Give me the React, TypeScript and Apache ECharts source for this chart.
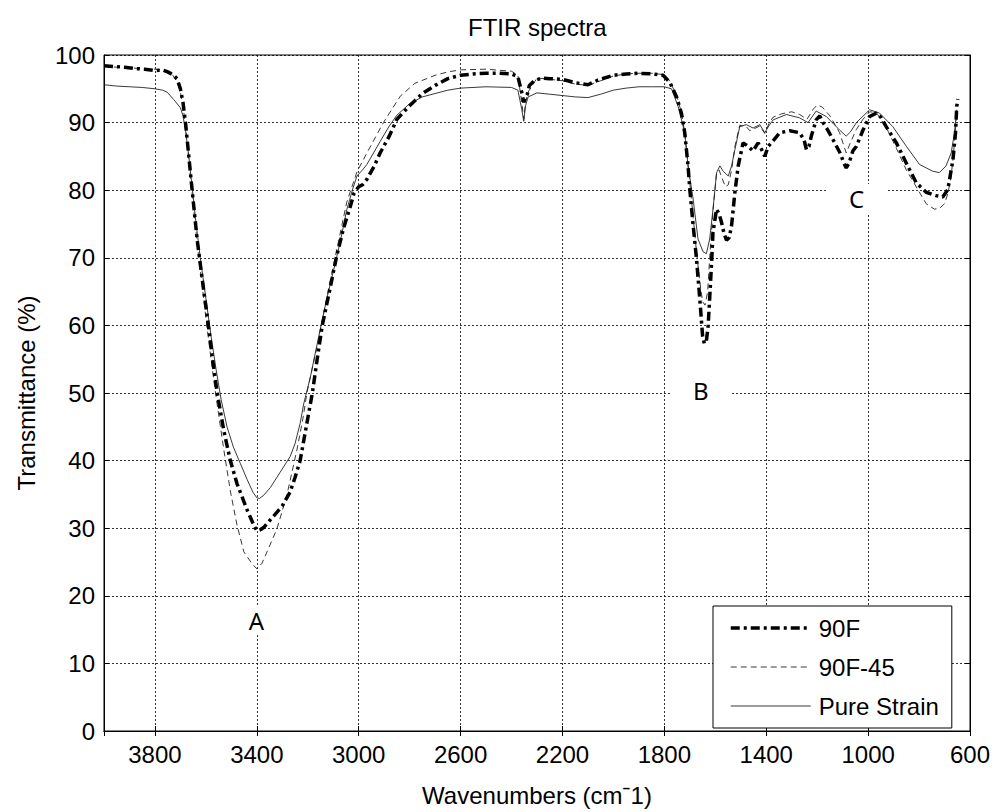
import React, { useEffect, useRef } from "react";
import * as echarts from "echarts";

const FONT = "'Liberation Sans', Arial, Helvetica, sans-serif";

const seriesNames = ["90F", "90F-45", "Pure Strain"];

// 90F (thick dash-dot)
const wn90F = [4000, 3960, 3920, 3880, 3840, 3800, 3770, 3750, 3730, 3713, 3700, 3690, 3680, 3667, 3654, 3634, 3615, 3595, 3576, 3556, 3530, 3504, 3478, 3438, 3410, 3399, 3385, 3373, 3334, 3300, 3270, 3250, 3230, 3206, 3182, 3163, 3143, 3115, 3088, 3060, 3033, 3018, 3000, 2985, 2968, 2940, 2916, 2880, 2850, 2800, 2750, 2700, 2650, 2600, 2550, 2500, 2450, 2400, 2375, 2360, 2352, 2345, 2338, 2330, 2310, 2280, 2250, 2200, 2150, 2100, 2060, 2000, 1950, 1900, 1850, 1805, 1779, 1752, 1733, 1720, 1707, 1700, 1687, 1674, 1661, 1650, 1643, 1635, 1628, 1622, 1615, 1609, 1595, 1585, 1576, 1565, 1556, 1545, 1536, 1523, 1510, 1491, 1471, 1452, 1432, 1418, 1406, 1392, 1380, 1347, 1308, 1269, 1252, 1242, 1232, 1223, 1204, 1190, 1177, 1160, 1138, 1110, 1095, 1086, 1075, 1060, 1046, 1020, 994, 968, 950, 929, 889, 850, 811, 772, 733, 707, 687, 667, 657, 652, 648];
const t90F = [98.4, 98.3, 98.2, 98.0, 97.9, 97.7, 97.8, 97.5, 97.1, 96.5, 95.0, 93.0, 90.0, 85.0, 80.0, 72.6, 67.0, 61.4, 55.7, 50.1, 44.5, 40.0, 36.6, 32.7, 30.3, 29.6, 29.8, 30.1, 31.8, 33.3, 35.3, 37.5, 40.0, 45.0, 50.0, 55.0, 60.0, 65.0, 70.0, 74.3, 77.6, 79.6, 80.5, 80.8, 81.6, 83.5, 85.5, 88.0, 90.5, 92.5, 94.3, 95.5, 96.5, 97.0, 97.2, 97.3, 97.3, 97.2, 96.8, 94.5, 93.0, 93.8, 94.2, 95.5, 96.2, 96.6, 96.5, 96.4, 95.9, 95.6, 96.3, 97.0, 97.2, 97.3, 97.2, 97.0, 96.0, 93.8, 91.4, 88.5, 83.6, 80.1, 74.8, 69.9, 64.0, 58.5, 57.3, 57.7, 60.0, 64.0, 69.0, 73.8, 77.2, 76.5, 75.3, 73.5, 72.6, 73.0, 74.8, 79.7, 83.6, 87.0, 86.5, 85.8, 87.0, 86.0, 85.0, 86.5, 87.0, 88.5, 88.8, 88.5, 87.5, 86.0, 86.5, 88.0, 90.4, 91.0, 90.0, 89.0, 87.5, 85.5, 84.0, 83.3, 84.0, 85.8, 86.5, 88.9, 90.9, 91.4, 90.8, 89.4, 87.0, 84.0, 81.1, 79.7, 79.2, 79.0, 80.1, 84.5, 88.4, 92.4, 93.5];

// 90F-45 (thin dashed)
const wn90F45 = [4000, 3950, 3900, 3850, 3800, 3770, 3750, 3730, 3713, 3700, 3690, 3680, 3667, 3654, 3634, 3615, 3598, 3582, 3566, 3556, 3530, 3504, 3478, 3451, 3420, 3400, 3380, 3360, 3321, 3282, 3242, 3220, 3203, 3164, 3125, 3085, 3047, 3007, 2968, 2903, 2837, 2780, 2700, 2650, 2600, 2500, 2400, 2375, 2360, 2352, 2345, 2335, 2300, 2250, 2200, 2150, 2100, 2050, 2000, 1950, 1900, 1850, 1805, 1779, 1752, 1733, 1720, 1707, 1687, 1674, 1661, 1650, 1640, 1630, 1622, 1609, 1595, 1585, 1576, 1560, 1549, 1536, 1523, 1504, 1478, 1465, 1452, 1425, 1406, 1390, 1373, 1340, 1300, 1269, 1240, 1215, 1200, 1180, 1150, 1112, 1086, 1070, 1046, 1020, 994, 968, 929, 889, 850, 811, 772, 740, 720, 700, 687, 674, 661, 652];
const t90F45 = [98.3, 98.2, 98.1, 98.0, 97.9, 97.8, 97.5, 97.0, 96.0, 94.5, 92.5, 89.5, 84.5, 79.5, 72.0, 66.0, 60.5, 55.7, 51.0, 48.4, 41.7, 35.5, 30.5, 26.5, 24.8, 24.0, 24.8, 26.5, 29.9, 34.9, 41.7, 46.0, 50.1, 56.8, 64.2, 71.4, 78.2, 82.7, 85.5, 90.0, 93.9, 95.8, 97.0, 97.5, 97.8, 97.9, 97.6, 97.0, 93.0, 90.5, 93.0, 94.5, 96.6, 96.4, 96.2, 95.7, 95.5, 96.2, 96.9, 97.2, 97.3, 97.3, 97.1, 96.2, 94.0, 91.5, 88.5, 83.8, 76.0, 71.0, 66.5, 63.5, 63.0, 65.0, 70.0, 77.0, 82.5, 83.0, 82.0, 80.5, 80.8, 83.0, 86.5, 89.6, 89.4, 88.8, 89.0, 89.5, 88.4, 89.8, 90.8, 91.3, 91.6, 91.2, 90.5, 92.0, 92.6, 92.3, 91.0, 88.5, 85.5, 87.0, 89.0, 90.5, 91.6, 91.5, 89.3, 86.2, 83.0, 80.5, 78.0, 77.2, 77.3, 78.0, 79.5, 82.0, 87.0, 91.5];

// Pure Strain (thin solid)
const wnPure = [4000, 3950, 3900, 3850, 3800, 3770, 3752, 3726, 3700, 3690, 3680, 3667, 3654, 3640, 3622, 3600, 3580, 3560, 3540, 3517, 3492, 3465, 3438, 3415, 3400, 3390, 3375, 3347, 3308, 3269, 3250, 3230, 3216, 3190, 3170, 3150, 3125, 3099, 3070, 3047, 3025, 3007, 2985, 2968, 2916, 2880, 2850, 2800, 2750, 2700, 2650, 2600, 2500, 2400, 2375, 2360, 2352, 2345, 2335, 2300, 2250, 2200, 2150, 2100, 2050, 2000, 1950, 1900, 1850, 1800, 1772, 1746, 1730, 1720, 1707, 1687, 1668, 1648, 1635, 1622, 1609, 1595, 1582, 1569, 1549, 1536, 1523, 1504, 1478, 1452, 1425, 1406, 1390, 1373, 1321, 1269, 1236, 1204, 1164, 1112, 1086, 1070, 1046, 994, 955, 903, 850, 798, 746, 720, 694, 674, 661, 652];
const tPure = [95.6, 95.4, 95.3, 95.2, 95.0, 94.8, 94.5, 93.4, 92.2, 91.0, 88.9, 85.0, 80.5, 75.5, 70.0, 64.0, 58.5, 53.5, 49.0, 45.0, 42.0, 39.6, 37.2, 35.3, 34.5, 34.4, 34.8, 36.0, 38.3, 40.6, 42.5, 45.5, 48.4, 52.3, 56.0, 59.6, 64.0, 68.1, 72.8, 77.1, 80.0, 82.1, 83.0, 83.8, 87.2, 89.5, 91.1, 92.8, 93.8, 94.3, 94.8, 95.1, 95.3, 95.2, 94.8, 92.0, 90.2, 92.5, 93.8, 94.4, 94.2, 94.0, 93.8, 93.7, 94.2, 94.8, 95.1, 95.3, 95.3, 95.3, 95.0, 92.4, 90.0, 88.5, 83.6, 78.7, 72.8, 70.9, 70.6, 72.8, 77.2, 82.6, 83.6, 82.8, 82.1, 83.6, 86.0, 89.4, 89.7, 89.2, 89.7, 88.5, 89.5, 90.4, 91.2, 90.7, 90.0, 91.7, 90.9, 88.9, 88.0, 88.6, 90.0, 91.9, 91.4, 89.4, 86.5, 83.8, 82.8, 82.6, 83.6, 85.5, 88.5, 91.9];

// Peak annotations
const peakLabels = ["A", "B", "C"];
const peakWn = [3402, 1657, 1045];
const peakT = [16.4, 50.4, 78.7];

const xTicks = { min: 600, max: 4000, interval: 400 };
const yTicks = { min: 0, max: 100, interval: 10 };

const zip = (xs: number[], ys: number[]) => xs.map((x, i) => [x, ys[i]]);

export default function App() {
  const ref = useRef<HTMLDivElement>(null);
  useEffect(() => {
    if (!ref.current) return;
    const chart = echarts.init(ref.current, undefined, { renderer: "svg" });
    const tickLabel = { color: "#000", fontSize: 24, fontFamily: FONT, formatter: (v: number) => String(v) };
    const gridLine = { show: true, lineStyle: { color: "#000", width: 0.8, type: [2, 2] as any } };
    const style90F = { color: "#000", width: 3.5, type: [9, 4, 3, 4] };
    const style90F45 = { color: "#222", width: 0.9, type: [6, 4] };
    const stylePure = { color: "#222", width: 0.9, type: "solid" };
    const option: any = {
      animation: false,
      backgroundColor: "#fff",
      title: {
        text: "FTIR spectra",
        left: 463,
        top: 10,
        textStyle: { color: "#000", fontSize: 24, fontWeight: "normal", fontFamily: FONT },
      },
      grid: {
        left: 104,
        right: 25,
        top: 55,
        bottom: 75,
        show: true,
        borderColor: "#000",
        borderWidth: 1,
        backgroundColor: "#fff",
      },
      legend: {
        data: [
          { name: seriesNames[0], lineStyle: { width: 3.5 } },
          { name: seriesNames[1], lineStyle: { width: 0.9 } },
          { name: seriesNames[2], lineStyle: { width: 0.9 } },
        ],
        orient: "vertical",
        left: 713,
        top: 606,
        padding: [10, 13, 10, 16],
        itemGap: 15,
        itemWidth: 80,
        itemHeight: 14,
        itemStyle: { opacity: 0 },
        borderColor: "#000",
        borderWidth: 1,
        backgroundColor: "#fff",
        textStyle: { color: "#000", fontSize: 24, fontFamily: FONT, padding: [0, 0, 0, 3] },
      },
      xAxis: [
        {
          type: "value",
          inverse: true,
          ...xTicks,
          name: "Wavenumbers (cm\u02C91)",
          nameLocation: "middle",
          nameGap: 52,
          nameTextStyle: { color: "#000", fontSize: 24, fontFamily: FONT },
          axisLine: { show: true, lineStyle: { color: "#000", width: 1 } },
          axisTick: { show: true, inside: true, length: 5, lineStyle: { color: "#000" } },
          axisLabel: { ...tickLabel, margin: 11, showMaxLabel: false },
          splitLine: gridLine,
        },
        {
          type: "value",
          inverse: true,
          position: "top",
          ...xTicks,
          axisLine: { show: true, lineStyle: { color: "#000", width: 1 } },
          axisTick: { show: true, inside: true, length: 5, lineStyle: { color: "#000" } },
          axisLabel: { show: false },
          splitLine: { show: false },
        },
      ],
      yAxis: [
        {
          type: "value",
          ...yTicks,
          name: "Transmittance (%)",
          nameLocation: "middle",
          nameGap: 66,
          nameTextStyle: { color: "#000", fontSize: 24, fontFamily: FONT },
          axisLine: { show: true, lineStyle: { color: "#000", width: 1 } },
          axisTick: { show: true, inside: true, length: 5, lineStyle: { color: "#000" } },
          axisLabel: { ...tickLabel, margin: 9 },
          splitLine: gridLine,
        },
        {
          type: "value",
          position: "right",
          ...yTicks,
          axisLine: { show: true, lineStyle: { color: "#000", width: 1 } },
          axisTick: { show: true, inside: true, length: 5, lineStyle: { color: "#000" } },
          axisLabel: { show: false },
          splitLine: { show: false },
        },
      ],
      series: [
        {
          name: seriesNames[0],
          type: "line",
          data: zip(wn90F, t90F),
          symbol: "none",
          lineStyle: style90F,
          itemStyle: { color: "#000" },
          z: 4,
        },
        {
          name: seriesNames[1],
          type: "line",
          data: zip(wn90F45, t90F45),
          symbol: "none",
          lineStyle: style90F45,
          itemStyle: { color: "#222" },
          z: 3,
        },
        {
          name: seriesNames[2],
          type: "line",
          data: zip(wnPure, tPure),
          symbol: "none",
          lineStyle: stylePure,
          itemStyle: { color: "#222" },
          z: 3,
        },
        {
          type: "scatter",
          symbolSize: 1,
          silent: true,
          z: 5,
          itemStyle: { opacity: 1, color: "#fff" },
          data: peakLabels.map((l, i) => ({
            name: l,
            value: [peakWn[i], peakT[i]],
            label: { padding: i === 0 ? [1, 3] : [3, 22] },
          })),
          label: {
            show: true,
            position: "inside",
            formatter: (p: any) => p.name,
            color: "#000",
            opacity: 1,
            fontSize: 24,
            fontFamily: "'Noto Sans', 'Open Sans', sans-serif",
            backgroundColor: "#fff",
          },
        },
      ],
    };
    chart.setOption(option);
    return () => chart.dispose();
  }, []);
  return <div ref={ref} style={{ width: 995, height: 812, position: "absolute", left: 0, top: 0 }} />;
}
